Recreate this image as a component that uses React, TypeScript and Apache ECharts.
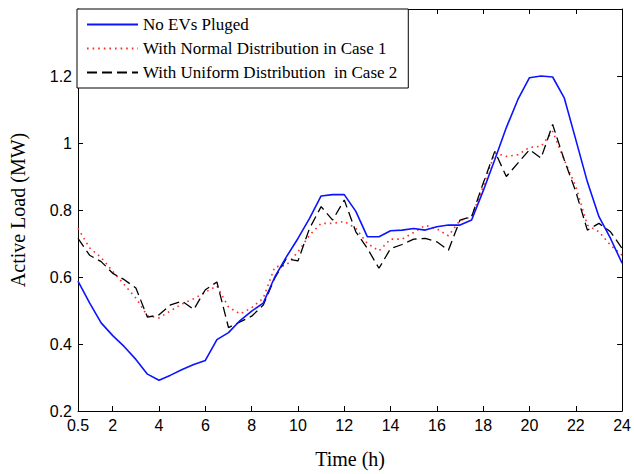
import React, { useEffect, useRef } from "react";
import * as echarts from "echarts";

const hours = [0.5, 1, 1.5, 2, 2.5, 3, 3.5, 4, 4.5, 5, 5.5, 6, 6.5, 7, 7.5, 8, 8.5, 9, 9.5, 10, 10.5, 11, 11.5, 12, 12.5, 13, 13.5, 14, 14.5, 15, 15.5, 16, 16.5, 17, 17.5, 18, 18.5, 19, 19.5, 20, 20.5, 21, 21.5, 22, 22.5, 23, 23.5, 24];

const noEVs = [0.588, 0.523, 0.463, 0.425, 0.392, 0.354, 0.31, 0.292, 0.307, 0.324, 0.339, 0.351, 0.413, 0.434, 0.47, 0.498, 0.522, 0.6, 0.66, 0.715, 0.775, 0.842, 0.846, 0.846, 0.796, 0.72, 0.72, 0.738, 0.74, 0.745, 0.74, 0.75, 0.755, 0.755, 0.77, 0.857, 0.95, 1.046, 1.13, 1.195, 1.2, 1.197, 1.135, 1.01, 0.884, 0.78, 0.715, 0.641];

const normalCase1 = [0.745, 0.687, 0.658, 0.617, 0.577, 0.537, 0.484, 0.478, 0.499, 0.52, 0.535, 0.555, 0.573, 0.51, 0.49, 0.508, 0.537, 0.63, 0.635, 0.675, 0.725, 0.76, 0.76, 0.766, 0.745, 0.7, 0.678, 0.713, 0.713, 0.733, 0.754, 0.744, 0.723, 0.769, 0.78, 0.87, 0.97, 0.96, 0.965, 0.987, 0.99, 1.035, 0.95, 0.87, 0.755, 0.735, 0.695, 0.665];

const uniformCase2 = [0.715, 0.665, 0.646, 0.611, 0.592, 0.567, 0.48, 0.487, 0.517, 0.528, 0.503, 0.562, 0.585, 0.449, 0.466, 0.483, 0.516, 0.597, 0.655, 0.648, 0.745, 0.81, 0.77, 0.83, 0.735, 0.685, 0.626, 0.685, 0.697, 0.713, 0.715, 0.705, 0.68, 0.77, 0.78, 0.88, 0.975, 0.9, 0.94, 0.98, 0.955, 1.055, 0.95, 0.855, 0.74, 0.76, 0.735, 0.685];

const xTicks = [0.5, 2, 4, 6, 8, 10, 12, 14, 16, 18, 20, 22, 24];
const seriesNames = ["No EVs Pluged", "With Normal Distribution in Case 1", "With Uniform Distribution  in Case 2"];

const zip = (ys: number[]) => hours.map((h, i) => [h, ys[i]]);

export default function App() {
  const ref = useRef<HTMLDivElement>(null);
  useEffect(() => {
    if (!ref.current) return;
    const chart = echarts.init(ref.current, null, { renderer: "svg" });
    const tickFont = { fontFamily: "Liberation Sans, Arial, sans-serif", fontSize: 16, color: "#000" };
    const baseX = {
      type: "value" as const,
      min: 0.5,
      max: 24,
      splitLine: { show: false },
      axisLine: { show: true, lineStyle: { color: "#000", width: 1 } },
    };
    const baseY = {
      type: "value" as const,
      min: 0.2,
      max: 1.4,
      interval: 0.2,
      splitLine: { show: false },
      axisLine: { show: true, lineStyle: { color: "#000", width: 1 } },
    };
    chart.setOption({
      animation: false,
      backgroundColor: "#fff",
      grid: { left: 77, right: 11, top: 9, bottom: 60, show: false },
      legend: {
        data: seriesNames,
        orient: "vertical",
        left: 77,
        top: 9,
        itemWidth: 51,
        itemHeight: 16,
        itemGap: 7,
        padding: [7, 11, 7, 9],
        borderColor: "#000",
        borderWidth: 1,
        backgroundColor: "#fff",
        borderRadius: 0,
        selectedMode: false,
        itemStyle: { opacity: 0 },
        textStyle: { fontFamily: "Liberation Serif, Times New Roman, serif", fontSize: 17, color: "#000" },
      },
      xAxis: [
        {
          ...baseX,
          position: "bottom",
          name: "Time (h)",
          nameLocation: "middle",
          nameGap: 38,
          nameTextStyle: { fontFamily: "Liberation Serif, Times New Roman, serif", fontSize: 20, color: "#000" },
          axisTick: { show: true, inside: true, length: 5, customValues: xTicks, lineStyle: { color: "#000" } },
          axisLabel: { ...tickFont, margin: 6, customValues: xTicks, formatter: (v: number) => String(v) },
        },
        {
          ...baseX,
          position: "top",
          axisTick: { show: true, inside: true, length: 5, customValues: xTicks, lineStyle: { color: "#000" } },
          axisLabel: { show: false },
        },
      ],
      yAxis: [
        {
          ...baseY,
          position: "left",
          name: "Active Load (MW)",
          nameLocation: "middle",
          nameGap: 50,
          nameTextStyle: { fontFamily: "Liberation Serif, Times New Roman, serif", fontSize: 20, color: "#000" },
          axisTick: { show: true, inside: true, length: 5, lineStyle: { color: "#000" } },
          axisLabel: {
            ...tickFont,
            margin: 6,
            formatter: (v: number) => (v > 1.3 ? "" : String(Math.round(v * 10) / 10)),
          },
        },
        {
          ...baseY,
          position: "right",
          axisTick: { show: true, inside: true, length: 5, lineStyle: { color: "#000" } },
          axisLabel: { show: false },
        },
      ],
      series: [
        {
          name: seriesNames[0],
          type: "line",
          data: zip(noEVs),
          symbol: "none",
          lineStyle: { color: "#0a14ff", width: 1.6 },
          itemStyle: { color: "#0a14ff" },
          z: 3,
        },
        {
          name: seriesNames[1],
          type: "line",
          data: zip(normalCase1),
          symbol: "none",
          lineStyle: { color: "#ff2a2a", width: 1.6, type: [1.6, 4] },
          itemStyle: { color: "#ff2a2a" },
          z: 2,
        },
        {
          name: seriesNames[2],
          type: "line",
          data: zip(uniformCase2),
          symbol: "none",
          lineStyle: { color: "#000", width: 1.3, type: [10, 5] },
          itemStyle: { color: "#000" },
          z: 2,
        },
      ],
    });
    return () => chart.dispose();
  }, []);
  return <div ref={ref} style={{ width: 634, height: 474, position: "absolute", left: 0, top: 0 }} />;
}
